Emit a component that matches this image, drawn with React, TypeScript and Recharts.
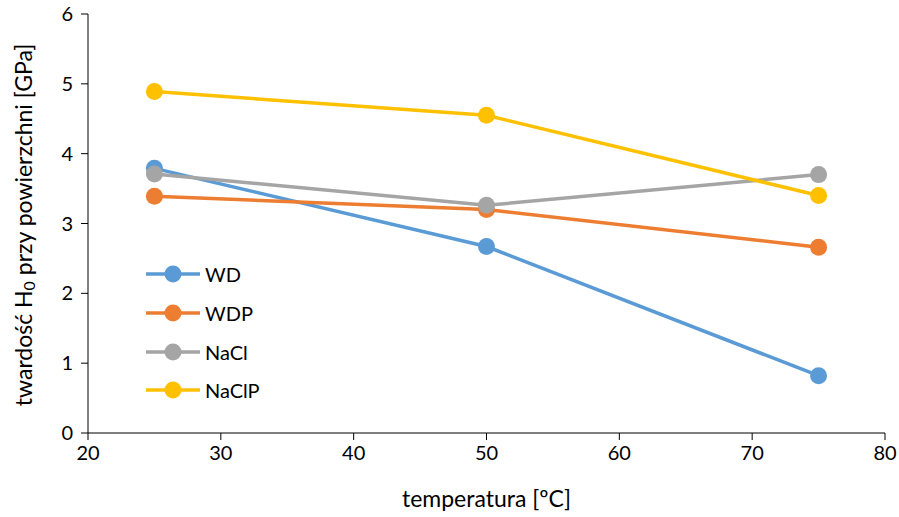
import React from 'react'
import { LineChart, Line, XAxis, YAxis } from 'recharts'

// temperatura [ºC]
const temps = [25, 50, 75]
// twardość H0 [GPa]
const wd = [3.79, 2.67, 0.82]
const wdp = [3.39, 3.2, 2.66]
const nacl = [3.71, 3.26, 3.7]
const naclp = [4.89, 4.55, 3.4]
const xTicks = [20, 30, 40, 50, 60, 70, 80]
const yTicks = [0, 1, 2, 3, 4, 5, 6]

const series = [
  { key: 'WD', color: '#5B9BD5' },
  { key: 'WDP', color: '#ED7D31' },
  { key: 'NaCl', color: '#A5A5A5' },
  { key: 'NaClP', color: '#FFC000' },
]

const data = temps.map((t, i) => ({
  t,
  WD: wd[i],
  WDP: wdp[i],
  NaCl: nacl[i],
  NaClP: naclp[i],
}))

const font = "Lato, 'Open Sans', 'Liberation Sans', sans-serif"

// legenda wewnątrz obszaru wykresu
function LegendBox() {
  return (
    <div
      style={{
        position: 'absolute',
        left: 144,
        top: 255,
        fontFamily: font,
        fontSize: 20,
        color: '#000',
      }}
    >
      {series.map((s) => (
        <div key={s.key} style={{ display: 'flex', alignItems: 'center', height: 38.7 }}>
          <svg width={58} height={20}>
            <line x1={2} y1={10} x2={56} y2={10} stroke={s.color} strokeWidth={3.5} />
            <circle cx={29} cy={10} r={8.5} fill={s.color} />
          </svg>
          <span style={{ marginLeft: 3 }}>{s.key}</span>
        </div>
      ))}
    </div>
  )
}

// tytuł osi Y z indeksem dolnym
function YTitle() {
  return (
    <text
      transform="translate(23, 225) rotate(-90)"
      textAnchor="middle"
      dominantBaseline="central"
      style={{ fontSize: 23, fill: '#000', fontFamily: font }}
    >
      <tspan>twardość H</tspan>
      <tspan dy={5} fontSize={16}>0</tspan>
      <tspan dy={-5}> przy powierzchni [GPa]</tspan>
    </text>
  )
}

export default function App() {
  return (
    <div style={{ position: 'absolute', left: 0, top: 0, width: 899, height: 517, background: '#fff' }}>
      <LineChart width={899} height={517} data={data} margin={{ top: 14, right: 14, bottom: 0, left: 28 }}>
        <XAxis
          type="number"
          dataKey="t"
          domain={[20, 80]}
          ticks={xTicks}
          height={84}
          stroke="#000"
          tickSize={7}
          tick={{ fontSize: 20, fill: '#000', fontFamily: font }}
          tickMargin={6}
          label={{
            value: 'temperatura [ºC]',
            position: 'insideBottom',
            offset: 10,
            style: { fontSize: 23, fill: '#000', fontFamily: font },
          }}
        />
        <YAxis
          type="number"
          domain={[0, 6]}
          ticks={yTicks}
          width={60}
          stroke="#000"
          tickSize={7}
          tickMargin={8}
          tick={{ fontSize: 20, fill: '#000', fontFamily: font }}
          label={<YTitle />}
        />
        {series.map((s) => (
          <Line
            key={s.key}
            dataKey={s.key}
            stroke={s.color}
            strokeWidth={3.5}
            dot={{ r: 8.5, fill: s.color, stroke: s.color, strokeWidth: 0 }}
            isAnimationActive={false}
          />
        ))}
      </LineChart>
      <LegendBox />
    </div>
  )
}
